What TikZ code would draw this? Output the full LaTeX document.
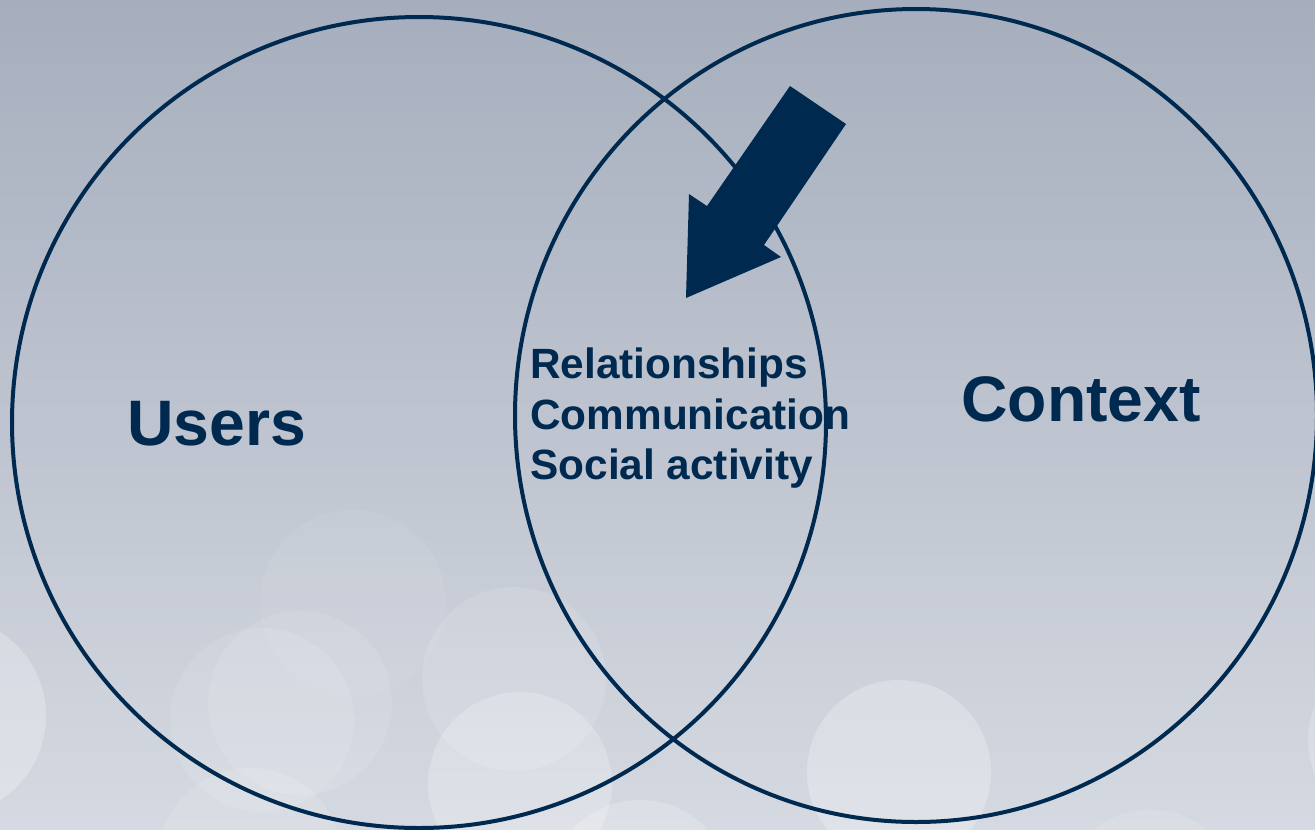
\documentclass[tikz,border=0pt]{standalone}
\usepackage{fontspec}
\setmainfont{Liberation Sans}
\definecolor{navy}{RGB}{0,41,80}
\definecolor{bgtop}{RGB}{166,174,189}
\definecolor{bgmid}{RGB}{198,203,213}
\definecolor{bgbot}{RGB}{213,217,225}
\begin{document}
\begin{tikzpicture}[x=0.02cm,y=-0.02cm,
  ring/.style={draw=navy,line width=0.08cm},
  bokeh/.style={fill=white,opacity=#1},
  bigword/.style={text=navy,font=\fontsize{36.6}{40}\selectfont\bfseries,anchor=base west,inner sep=0pt},
  listword/.style={text=navy,font=\fontsize{24.1}{28}\selectfont\bfseries,anchor=base west,inner sep=0pt}]
\useasboundingbox (0,0) rectangle (1315,829);
% background gradient
\shade[top color=bgtop, middle color=bgmid, bottom color=bgbot] (0,0) rectangle (1315,829);
% soft light spots
\begin{scope}
\clip (0,0) rectangle (1315,829);
\fill[bokeh=0.25] (-54,716) circle[radius=100];
\fill[bokeh=0.06] (353,603) circle[radius=93];
\fill[bokeh=0.10] (262,720) circle[radius=92];
\fill[bokeh=0.10] (300,703) circle[radius=92];
\fill[bokeh=0.12] (514,679) circle[radius=92];
\fill[bokeh=0.22] (520,784) circle[radius=92];
\fill[bokeh=0.12] (250,860) circle[radius=92];
\fill[bokeh=0.25] (899,772) circle[radius=92];
\fill[bokeh=0.20] (640,892) circle[radius=92];
\fill[bokeh=0.12] (1150,902) circle[radius=92];
\fill[bokeh=0.20] (1400,740) circle[radius=92];
\end{scope}
% the two overlapping sets
\draw[ring] (419,422.5) ellipse[x radius=407, y radius=405.5];
\draw[ring] (916,415.5) ellipse[x radius=401, y radius=406.5];
% labels
\node[bigword] (users) at (127,445) {Users};
\node[bigword] (context) at (961,421) {Context};
\node[listword] (rel) at (530,378) {Relationships};
\node[listword] (com) at (530,429) {Communication};
\node[listword] (soc) at (530,479) {Social activity};
% arrow pointing into the overlap
\fill[navy] (790,86) -- (846,124) -- (764,245) -- (781,257) -- (686,298) -- (689,194) -- (707,206) -- cycle;
\end{tikzpicture}
\end{document}
